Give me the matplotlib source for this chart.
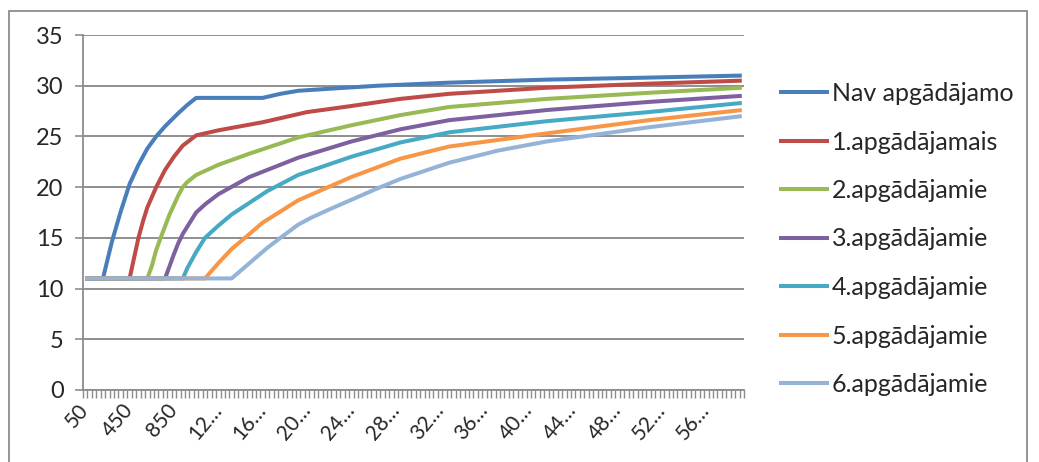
import numpy as np
import matplotlib
matplotlib.use("Agg")
import matplotlib.pyplot as plt
from matplotlib.patches import Rectangle
from matplotlib.transforms import ScaledTranslation

plt.rcParams["font.family"] = ["Lato", "DejaVu Sans"]

# Income categories on the horizontal axis
income = list(range(50, 6000, 40))

series_names = [
    "Nav apgādājamo",
    "1.apgādājamais",
    "2.apgādājamie",
    "3.apgādājamie",
    "4.apgādājamie",
    "5.apgādājamie",
    "6.apgādājamie",
]
series_colors = ["#4A7EBB", "#BE4B48", "#98B954", "#7D60A0", "#46AAC5", "#F79646", "#95B3D7"]

# Values per series, given at selected incomes (category positions)
nav_inc = [50, 210, 250, 290, 370, 450, 530, 610, 690, 770, 890, 970, 1050, 1650, 1810, 1970, 2250, 2690, 3330, 4210, 5130, 5970]
nav_val = [11.0, 11.0, 12.8, 14.6, 17.6, 20.3, 22.2, 23.8, 25.0, 26.0, 27.3, 28.1, 28.8, 28.8, 29.2, 29.5, 29.7, 30.0, 30.3, 30.6, 30.8, 31.0]

d1_inc = [50, 450, 490, 530, 570, 610, 690, 770, 850, 930, 1050, 1250, 1450, 1650, 1810, 2050, 2450, 2890, 3330, 4210, 5130, 5970]
d1_val = [11.0, 11.0, 13.0, 15.0, 16.6, 18.0, 20.0, 21.7, 23.0, 24.1, 25.1, 25.6, 26.0, 26.4, 26.8, 27.4, 28.0, 28.7, 29.2, 29.8, 30.2, 30.5]

d2_inc = [50, 610, 650, 690, 730, 810, 890, 930, 970, 1050, 1250, 1530, 1970, 2450, 2890, 3330, 4210, 5130, 5970]
d2_val = [11.0, 11.0, 12.2, 13.8, 15.0, 17.3, 19.2, 20.0, 20.5, 21.2, 22.2, 23.3, 24.9, 26.1, 27.1, 27.9, 28.7, 29.3, 29.8]

d3_inc = [50, 770, 810, 850, 890, 930, 1050, 1130, 1250, 1530, 1970, 2450, 2890, 3330, 4210, 5130, 5970]
d3_val = [11.0, 11.0, 12.2, 13.4, 14.5, 15.4, 17.5, 18.3, 19.3, 21.0, 22.9, 24.5, 25.7, 26.6, 27.6, 28.4, 29.0]

d4_inc = [50, 930, 970, 1050, 1130, 1250, 1370, 1690, 1970, 2450, 2890, 3330, 4210, 5130, 5970]
d4_val = [11.0, 11.0, 12.0, 13.6, 15.0, 16.2, 17.3, 19.6, 21.2, 23.0, 24.4, 25.4, 26.5, 27.4, 28.3]

d5_inc = [50, 1130, 1250, 1370, 1490, 1650, 1970, 2450, 2890, 3330, 4210, 5130, 5970]
d5_val = [11.0, 11.0, 12.5, 13.9, 15.0, 16.5, 18.7, 21.0, 22.8, 24.0, 25.3, 26.6, 27.6]

d6_inc = [50, 1370, 1530, 1690, 1810, 1970, 2090, 2250, 2690, 2890, 3330, 3770, 4210, 5130, 5970]
d6_val = [11.0, 11.0, 12.5, 14.0, 15.0, 16.3, 17.0, 17.8, 19.9, 20.8, 22.4, 23.6, 24.5, 25.9, 27.0]

series = [
    (nav_inc, nav_val), (d1_inc, d1_val), (d2_inc, d2_val), (d3_inc, d3_val),
    (d4_inc, d4_val), (d5_inc, d5_val), (d6_inc, d6_val),
]

y_ticks = [0, 5, 10, 15, 20, 25, 30, 35]
label_every = 10

W, H = 1039, 462
fig = plt.figure(figsize=(W / 100, H / 100), dpi=100)
fig.patch.set_facecolor("white")

# outer chart frame (its lower edge runs past the bottom of the image)
fig.add_artist(Rectangle((9 / W, -10 / H), 1018 / W, (451 + 10) / H, transform=fig.transFigure,
                         fill=False, edgecolor="#8C8C8C", linewidth=1.3))

ax = fig.add_axes([83 / W, 1 - 390 / H, (744 - 83) / W, (390 - 35) / H])

cat_pos = {v: i for i, v in enumerate(income)}
grid_color = "#868686"

for (xs, ys), name, col in zip(series, series_names, series_colors):
    ax.plot([cat_pos[x] for x in xs], ys, color=col, lw=2.9, label=name,
            solid_joinstyle="round", solid_capstyle="butt", zorder=3)

ax.set_xlim(-0.5, len(income) - 0.5)
ax.set_ylim(0, 35)

ax.set_yticks(y_ticks)
ax.set_yticklabels([str(v) for v in y_ticks])
ax.yaxis.grid(True, color=grid_color, lw=1.3)
ax.set_axisbelow(True)

# category labels every tenth category; long values are shown clipped
major = list(range(0, len(income), label_every))
ax.set_xticks(major)
labels = []
for i in major:
    s = str(income[i])
    labels.append(s if len(s) <= 3 else s[:2] + "…")
ax.set_xticklabels(labels, rotation=50, ha="right", va="center", rotation_mode="anchor")
shift = ScaledTranslation(9 / 100, 0, fig.dpi_scale_trans)
for lab in ax.get_xticklabels():
    lab.set_transform(lab.get_transform() + shift)
ax.set_xticks(np.arange(-0.5, len(income), 1.0), minor=True)

ax.tick_params(axis="x", which="major", length=0, pad=12, labelsize=15, colors="#8C8C8C", labelcolor="#262626")
ax.tick_params(axis="x", which="minor", length=6, width=1, colors="#8C8C8C", direction="out")
ax.tick_params(axis="y", length=6, width=1.2, colors="#8C8C8C", labelcolor="#262626", labelsize=17, pad=8)

for side in ("top", "right"):
    ax.spines[side].set_visible(False)
for side in ("left", "bottom"):
    ax.spines[side].set_color("#8C8C8C")
    ax.spines[side].set_linewidth(1.3)

leg = ax.legend(loc="upper left", bbox_to_anchor=(779 / W, 1 - 82 / H), bbox_transform=fig.transFigure,
                frameon=False, fontsize=18, handlelength=2.0, handletextpad=0.1,
                labelspacing=1.02, borderpad=0, borderaxespad=0)
for t in leg.get_texts():
    t.set_color("#262626")

fig.savefig("out.png", dpi=100, facecolor="white")
